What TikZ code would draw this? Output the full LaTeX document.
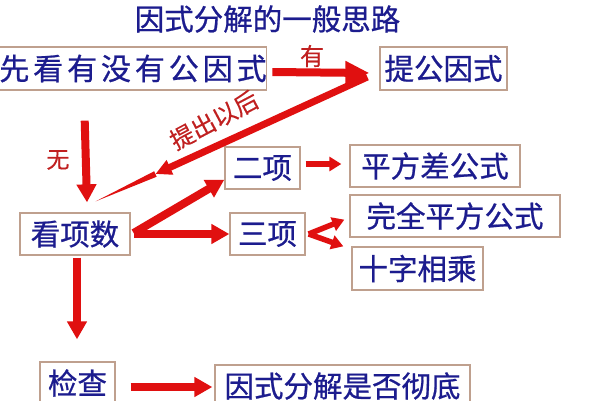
\documentclass[tikz,border=0pt]{standalone}
\usepackage{fontspec}
\newfontfamily\cjk[FakeBold=0.7]{Noto Sans CJK SC}
\newfontfamily\cjkwide[FakeBold=0.7,LetterSpace=13]{Noto Sans CJK SC}
\newfontfamily\cjklbl[FakeBold=0.3]{Noto Sans CJK SC}
\usetikzlibrary{arrows.meta,calc}
\definecolor{boxline}{HTML}{BFA08E}
\definecolor{txtblue}{HTML}{1C1C8E}
\definecolor{arrred}{HTML}{E01010}
\definecolor{lblred}{HTML}{C02020}
\begin{document}
\begin{tikzpicture}[x=1pt,y=-1pt,
 box/.style={draw=boxline, line width=1.3pt, fill=white, text=txtblue, font=\cjk\fontsize{29.5}{29.5}\selectfont, inner sep=0pt, anchor=center},
 blk/.style={draw=arrred, line width=8pt, -{Triangle[width=19pt,length=18pt]}},
 sblk/.style={draw=arrred, line width=5.5pt, -{Triangle[width=14pt,length=12pt]}},
 lbl/.style={text=lblred, font=\cjklbl\fontsize{23}{23}\selectfont}]
\useasboundingbox (0,0) rectangle (600,400);
\fill[white] (0,0) rectangle (600,400);

\node[text=txtblue, font=\cjk\fontsize{29.5}{29.5}\selectfont] (title) at (267.5,19) {因式分解的一般思路};

\node[box, font=\cjkwide\fontsize{30}{30}\selectfont, minimum width=264pt, minimum height=43pt] (n1) at (133,68.5) {先看有没有公因式};
\node[box, minimum width=127pt, minimum height=43pt] (n2) at (443.5,68.5) {提公因式};
\node[box, minimum width=110pt, minimum height=42pt] (n3) at (75,234) {看项数};
\node[box, minimum width=75pt, minimum height=42pt] (n4) at (262.5,168) {二项};
\node[box, minimum width=75pt, minimum height=42pt] (n5) at (267.5,234) {三项};
\node[box, minimum width=170pt, minimum height=42pt] (n6) at (435,166) {平方差公式};
\node[box, minimum width=210pt, minimum height=42pt] (n7) at (455,216) {完全平方公式};
\node[box, minimum width=131pt, minimum height=43pt] (n8) at (417.5,268.5) {十字相乘};
\node[box, minimum width=75pt, minimum height=42pt] (n9) at (77.5,383) {检查};
\node[box, minimum width=255pt, minimum height=42pt] (n10) at (342.5,386) {因式分解是否彻底};

% 有
\draw[blk, -{Triangle[width=22pt,length=24pt]}] ($(n1.east)+(5,3.5)$) -- ($(n2.west)+(-10,4.5)$);
\node[lbl, font=\cjklbl\fontsize{24}{24}\selectfont] (lyou) at (312,56) {有};

% 无
\draw[blk] ($(n1.south west)+(86,30)$) -- ($(n3.north)+(12,-10)$);
\node[lbl] (lwu) at (58,160) {无};

% 提出以后
\coordinate (P) at ($(n2.west)+(-12,8.5)$);
\coordinate (Q) at ($(n3.north east)+(-35,-11)$);
\coordinate (M) at ($(P)!0.78!(Q)$);
\draw[draw=arrred, line width=7pt, -{Triangle[width=15pt,length=16pt]}] (P) -- (M);
\fill[arrred] ($(M)!3pt!90:(P)$) -- ($(M)!3pt!-90:(P)$) -- (Q) -- cycle;
\node[lbl, rotate=28, font=\cjklbl\fontsize{24}{24}\selectfont] (ltc) at (214,120) {提出以后};

% 看项数 -> 二项 / 三项
\draw[blk] ($(n3.east)+(3,-1)$) -- ($(n4.south west)+(0,-10)$);
\draw[blk] ($(n3.east)+(3,0)$) -- (n5.west);

% 二项 -> 平方差公式
\draw[sblk] ($(n4.east)+(5,-4)$) -- ($(n6.west)+(-8,-2)$);

% 三项 -> 完全平方公式 / 十字相乘
\draw[sblk] ($(n5.east)+(3,0)$) -- ($(n7.south west)+(-5,-18)$);
\draw[sblk] ($(n5.east)+(3,0)$) -- ($(n8.north west)+(-8,0)$);

% 看项数 -> 检查
\draw[blk] ($(n3.south)+(2,2)$) -- ($(n9.north)+(-0.5,-22)$);

% 检查 -> 因式分解是否彻底
\draw[blk] ($(n9.east)+(15,4)$) -- ($(n10.west)+(-2,1)$);
\end{tikzpicture}
\end{document}
